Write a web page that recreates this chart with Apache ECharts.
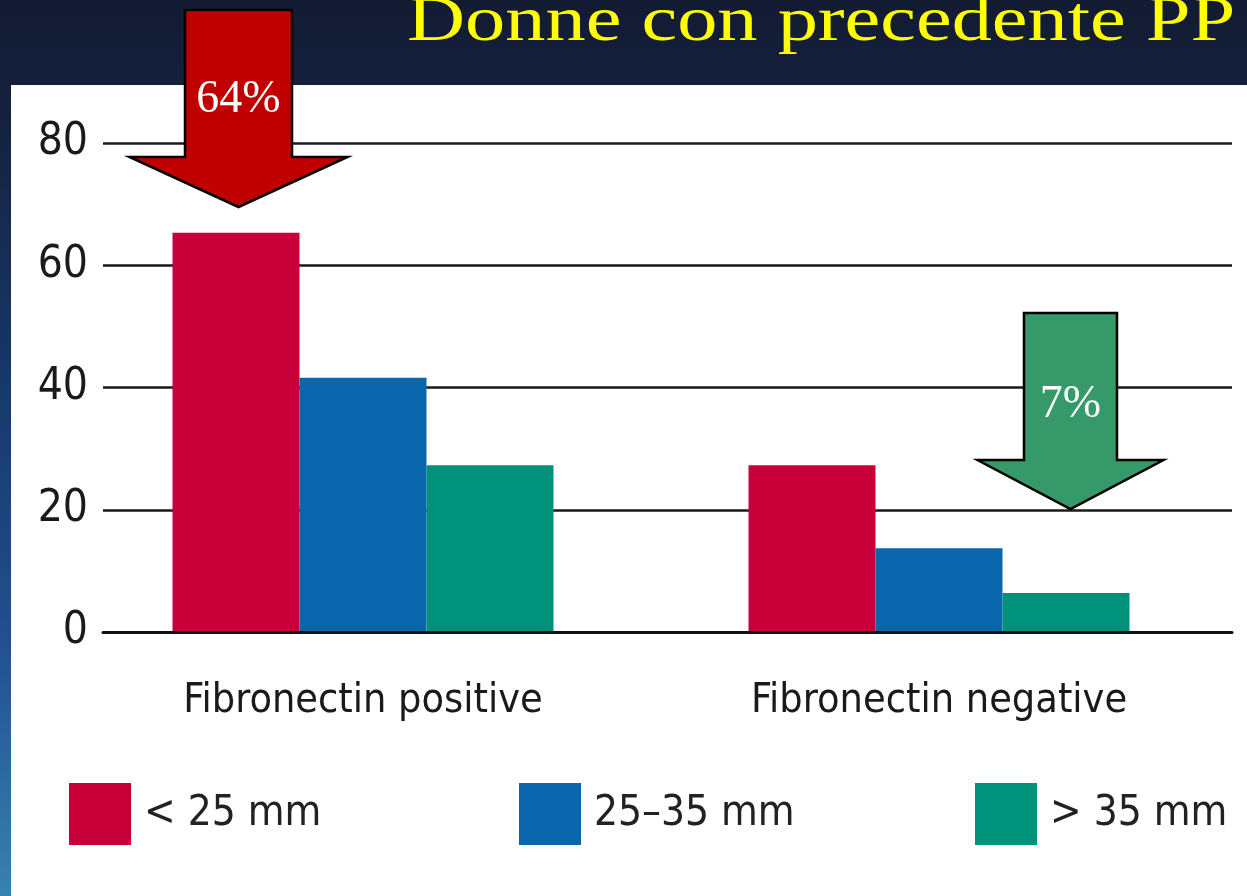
<!DOCTYPE html>
<html>
<head>
<meta charset="utf-8">
<script src="https://cdn.jsdelivr.net/npm/echarts@6/dist/echarts.min.js"></script>
<style>
  html, body { margin: 0; padding: 0; }
  #chart { width: 1247px; height: 896px; }
</style>
</head>
<body>
<div id="chart"></div>
<script>
const categories = ['Fibronectin positive', 'Fibronectin negative']
const seriesNames = ['< 25 mm', '25–35 mm', '> 35 mm']
const smallData = [65.3, 27.3]
const midData = [41.6, 13.7]
const largeData = [27.3, 6.4]
const yTicks = [0, 20, 40, 60, 80]

const sansFont = "'DejaVu Sans Condensed', 'DejaVu Sans', sans-serif"
const serifFont = "'Liberation Serif', 'DejaVu Serif', serif"
const colors = ['#c8003a', '#0a67ad', '#00917a']

const chart = echarts.init(document.getElementById('chart'))

function legendAt(name, left) {
  return {
    data: [name],
    left: left,
    top: 783,
    padding: 0,
    icon: 'rect',
    itemWidth: 62,
    itemHeight: 62,
    textStyle: { fontSize: 42, fontFamily: sansFont, color: '#222', padding: [0, 0, 0, 8] }
  }
}

// annotation arrow (not data), drawn as a polygon with a label
function arrow(cx, shaftHalf, headHalf, top, neck, tip, fill, label, labelY) {
  return [{
    type: 'polygon',
    z: 100,
    shape: {
      points: [
        [cx - shaftHalf, top], [cx + shaftHalf, top], [cx + shaftHalf, neck],
        [cx + headHalf, neck], [cx, tip], [cx - headHalf, neck], [cx - shaftHalf, neck]
      ]
    },
    style: { fill: fill, stroke: '#000', lineWidth: 2.5 }
  }, {
    type: 'text',
    z: 101,
    style: {
      x: cx, y: labelY, text: label, fill: '#fff',
      font: '46px ' + serifFont, textAlign: 'center', textVerticalAlign: 'middle'
    }
  }]
}

chart.setOption({
  backgroundColor: {
    type: 'linear', x: 0, y: 0, x2: 0, y2: 1,
    colorStops: [
      { offset: 0, color: '#131b33' },
      { offset: 0.12, color: '#15213d' },
      { offset: 0.45, color: '#173a6e' },
      { offset: 0.72, color: '#22508f' },
      { offset: 1, color: '#3782b2' }
    ]
  },
  animation: false,
  graphic: [
    { type: 'rect', z: -100, shape: { x: 11, y: 85, width: 1236, height: 811 }, style: { fill: '#fff' } },
    {
      type: 'text', x: 407, y: 24, scaleX: 1.34, scaleY: 1.04, z: 50,
      style: {
        x: 0, y: 0, text: 'Donne con precedente PP', fill: '#ffff00',
        font: '60px ' + serifFont, textVerticalAlign: 'middle'
      }
    },
    ...arrow(238.5, 53.5, 109, 10, 157, 207, '#c00000', '64%', 100),
    ...arrow(1070.5, 46.5, 93, 313, 460, 509, '#35996a', '7%', 405)
  ],
  legend: [
    legendAt(seriesNames[0], 69),
    legendAt(seriesNames[1], 519),
    legendAt(seriesNames[2], 975)
  ],
  grid: [
    { left: 75, right: 20, top: 143, bottom: 264 },
    { left: 103, right: 15, top: 143, bottom: 264 }
  ],
  xAxis: [{
    gridIndex: 0,
    type: 'category',
    data: categories,
    axisLine: { show: false },
    axisTick: { show: false },
    axisLabel: { margin: 49, fontSize: 41, fontFamily: sansFont, color: '#1a1a1a' }
  }, {
    gridIndex: 1,
    type: 'category',
    data: categories,
    z: 5,
    axisLine: { lineStyle: { color: '#111', width: 3 } },
    axisTick: { show: false },
    axisLabel: { show: false }
  }],
  yAxis: [{
    gridIndex: 0,
    type: 'value',
    min: yTicks[0],
    max: yTicks[yTicks.length - 1],
    interval: 20,
    show: false
  }, {
    gridIndex: 1,
    type: 'value',
    min: yTicks[0],
    max: yTicks[yTicks.length - 1],
    interval: 20,
    axisLine: { show: false },
    axisTick: { show: false },
    splitLine: { lineStyle: { color: '#1a1a1a', width: 2.5 } },
    axisLabel: { margin: 15, fontSize: 44, fontFamily: sansFont, color: '#1a1a1a' }
  }],
  series: [
    { name: seriesNames[0], type: 'bar', data: smallData },
    { name: seriesNames[1], type: 'bar', data: midData },
    { name: seriesNames[2], type: 'bar', data: largeData }
  ].map((s, i) => Object.assign(s, {
    xAxisIndex: 0,
    yAxisIndex: 0,
    barWidth: 127,
    barGap: '0%',
    itemStyle: { color: colors[i] }
  }))
})
</script>
</body>
</html>
